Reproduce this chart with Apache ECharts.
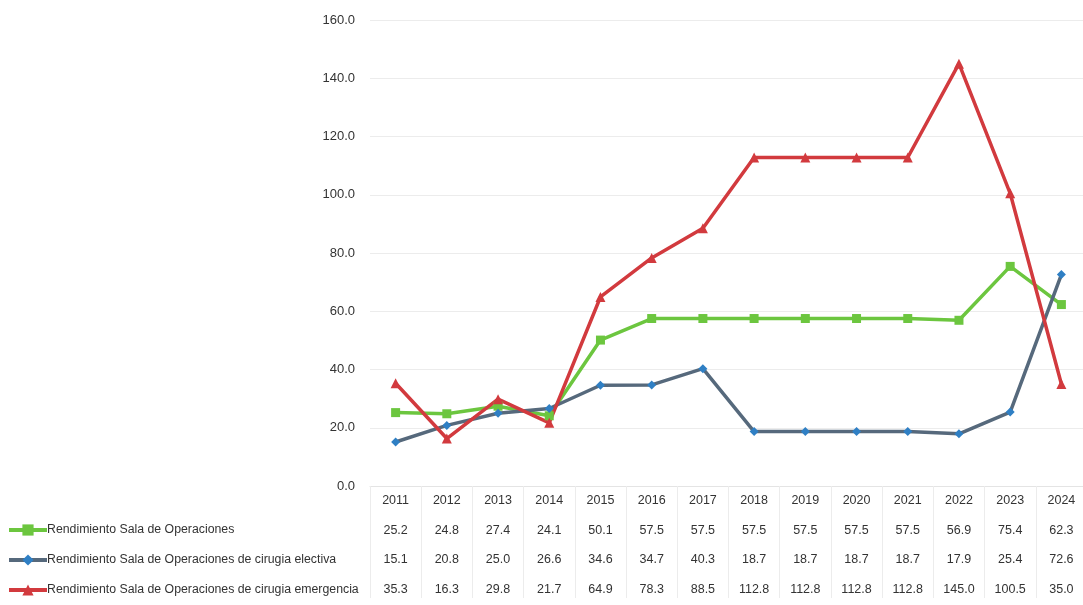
<!DOCTYPE html>
<html><head><meta charset="utf-8">
<script src="https://cdn.jsdelivr.net/npm/echarts@6/dist/echarts.min.js"></script>
<style>html,body{margin:0;padding:0;background:#fff}#c{width:1083px;height:605px}</style>
</head><body><div id="c"></div>
<script>
const years = ['2011','2012','2013','2014','2015','2016','2017','2018','2019','2020','2021','2022','2023','2024'];
const seriesNames = ['Rendimiento Sala de Operaciones','Rendimiento Sala de Operaciones de cirugia electiva','Rendimiento Sala de Operaciones de cirugia emergencia'];
const rendimiento = [25.2,24.8,27.4,24.1,50.1,57.5,57.5,57.5,57.5,57.5,57.5,56.9,75.4,62.3];
const electiva = [15.1,20.8,25.0,26.6,34.6,34.7,40.3,18.7,18.7,18.7,18.7,17.9,25.4,72.6];
const emergencia = [35.3,16.3,29.8,21.7,64.9,78.3,88.5,112.8,112.8,112.8,112.8,145.0,100.5,35.0];
const yTicks = [0,20,40,60,80,100,120,140,160];

const FONT = "'Liberation Sans',sans-serif";
const chart = echarts.init(document.getElementById('c'));
const allSeries = [rendimiento, electiva, emergencia];
chart.setOption({
  backgroundColor:'#fff',
  animation:false,
  textStyle:{fontFamily:FONT},
  grid:{left:370, top:20, width:717, height:466, containLabel:false, outerBoundsMode:'none'},
  legend:{
    orient:'vertical', left:2, top:518, itemWidth:38, itemHeight:14, itemGap:16,
    textStyle:{fontFamily:FONT, fontSize:12.3, color:'#333', padding:[0,0,0,-5], lineHeight:14},
    lineStyle:{width:4},
    data:seriesNames
  },
  xAxis:{
    type:'category', data:years, boundaryGap:true,
    axisLine:{show:true, lineStyle:{color:'#e4e4e4'}},
    axisTick:{show:true, length:112, lineStyle:{color:'#ececec'}},
    axisLabel:{
      margin:0, fontFamily:FONT, fontSize:12.5, color:'#333', lineHeight:29.5,
      formatter:function(v, i){
        return [v].concat(allSeries.map(s=>s[i].toFixed(1))).join('\n');
      }
    }
  },
  yAxis:{
    type:'value', min:yTicks[0], max:yTicks[yTicks.length-1], interval:20,
    axisLine:{show:false}, axisTick:{show:false},
    axisLabel:{fontFamily:FONT, fontSize:13, color:'#333', margin:15, formatter:v=>v.toFixed(1)},
    splitLine:{lineStyle:{color:'#ececec', width:1}}
  },
  series:[
    {name:seriesNames[0], type:'line', data:rendimiento, symbol:'rect', symbolSize:9,
     lineStyle:{color:'#6cc63f', width:3.5}, itemStyle:{color:'#6cc63f'}},
    {name:seriesNames[1], type:'line', data:electiva, symbol:'diamond', symbolSize:9,
     lineStyle:{color:'#56697c', width:3.5}, itemStyle:{color:'#2f7fc4'}},
    {name:seriesNames[2], type:'line', data:emergencia, symbol:'triangle', symbolSize:10,
     lineStyle:{color:'#d23a3e', width:3.5}, itemStyle:{color:'#d23a3e'}}
  ]
});
</script></body></html>
